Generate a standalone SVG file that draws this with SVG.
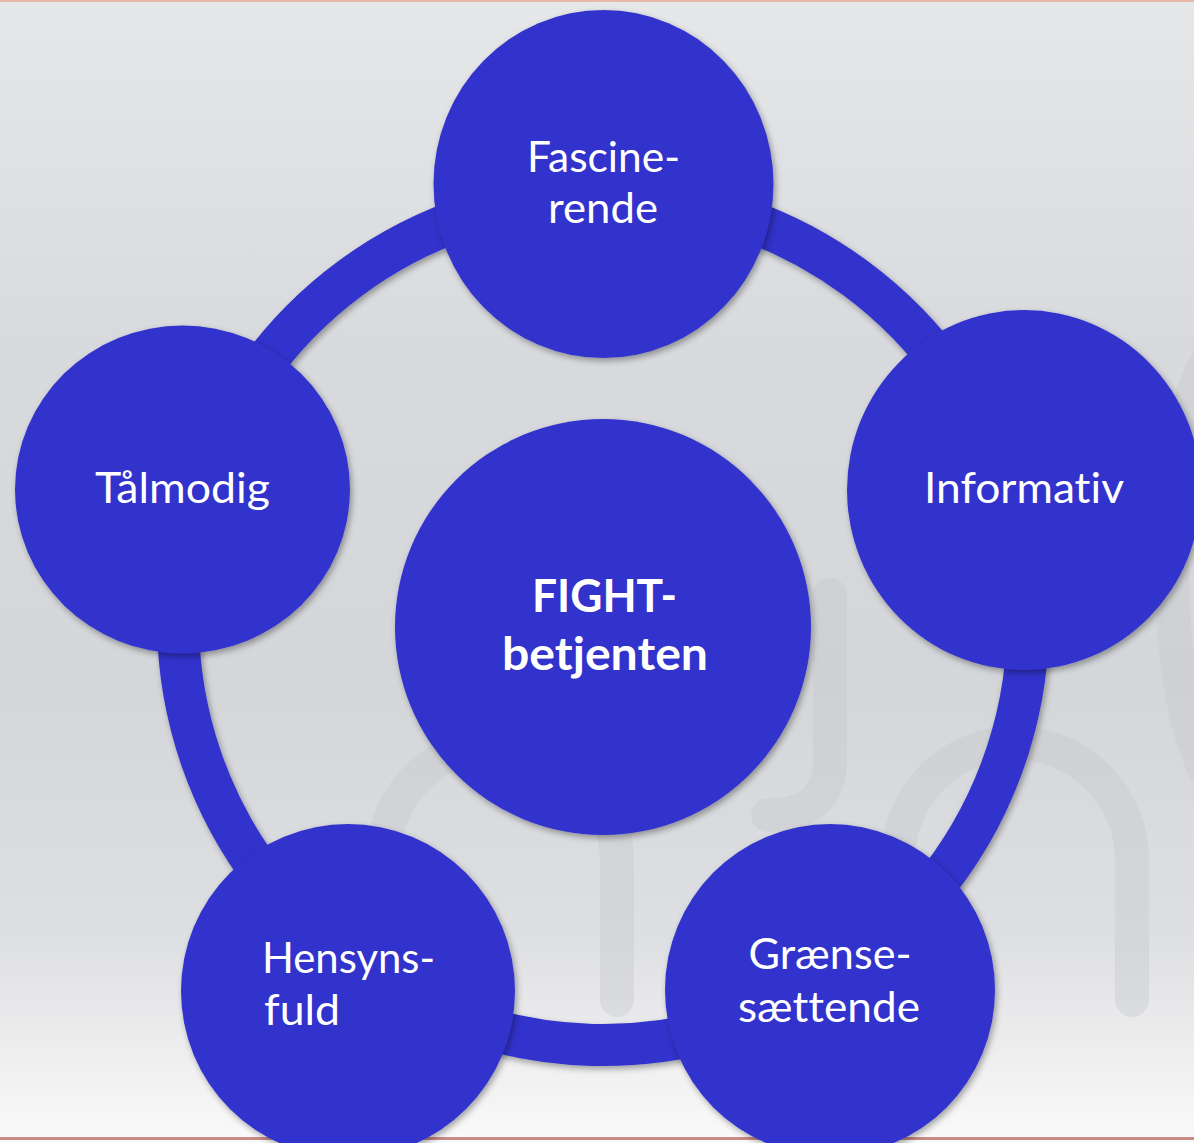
<svg xmlns="http://www.w3.org/2000/svg" width="1194" height="1143" viewBox="0 0 1194 1143">
  <defs>
    <linearGradient id="bg" x1="0" y1="0" x2="0" y2="1">
      <stop offset="0" stop-color="#e6e7e9"/>
      <stop offset="0.3" stop-color="#d9dadd"/>
      <stop offset="0.6" stop-color="#d5d6d9"/>
      <stop offset="0.82" stop-color="#dedfe2"/>
      <stop offset="0.92" stop-color="#eeeeef"/>
      <stop offset="1" stop-color="#fafafa"/>
    </linearGradient>
    <filter id="sh" x="-10%" y="-10%" width="125%" height="125%">
      <feDropShadow dx="2" dy="3" stdDeviation="3" flood-color="#000" flood-opacity="0.35"/>
    </filter>
  </defs>
  <style>
    .node { fill: #3333cc; filter: url(#sh); }
    .ring { fill: none; stroke: #3333cc; stroke-width: 42; }
    .wm { fill: none; stroke: #c6c7ca; stroke-width: 34; stroke-linecap: round; opacity: 0.4; }
    .lbl { fill: #ffffff; font-family: Lato, "Liberation Sans", sans-serif; font-size: 43px; font-variant-ligatures: none; font-feature-settings: "liga" 0, "clig" 0, "dlig" 0; }
    .mid { text-anchor: middle; }
    .bold { font-weight: bold; font-size: 46px; }
  </style>

  <rect x="0" y="0" width="1194" height="1143" fill="url(#bg)"/>
  <rect x="0" y="0" width="1194" height="2" fill="#e6b8a8"/>
  <rect x="0" y="1137" width="1194" height="3" fill="#c98a86"/>

  <g id="watermark">
    <path class="wm" d="M383 1005 V860 A117 117 0 0 1 617 860 V1000"/>
    <path class="wm" d="M898 1005 V860 A117 117 0 0 1 1132 860 V1000"/>
    <path class="wm" d="M830 595 V760 Q830 815 768 815"/>
    <path class="wm" d="M1205 365 Q1172 430 1172 560 Q1172 700 1205 770"/>
  </g>

  <g id="connectors" filter="url(#sh)">
    <path class="ring" d="M603 195 A425 425 0 0 1 1009 494"/>
    <path class="ring" d="M1009 494 A425 425 0 0 1 826 982"/>
    <path class="ring" d="M826 982 A425 425 0 0 1 362 970"/>
    <path class="ring" d="M362 970 A425 425 0 0 1 197 494"/>
    <path class="ring" d="M197 494 A425 425 0 0 1 603 195"/>
  </g>

  <g id="node-center">
    <circle class="node" cx="603" cy="627" r="208"/>
    <text class="lbl mid bold" x="604.5" y="612" textLength="145" lengthAdjust="spacingAndGlyphs">FIGHT-</text>
    <text class="lbl mid bold" x="605" y="670" textLength="206" lengthAdjust="spacingAndGlyphs">betjenten</text>
  </g>

  <g id="node-fascinerende">
    <ellipse class="node" cx="603.5" cy="184" rx="170" ry="174"/>
    <text class="lbl mid" x="603.5" y="172" textLength="153" lengthAdjust="spacingAndGlyphs">Fascine-</text>
    <text class="lbl mid" x="603" y="223" textLength="110" lengthAdjust="spacingAndGlyphs">rende</text>
  </g>

  <g id="node-informativ">
    <ellipse class="node" cx="1024" cy="490" rx="177" ry="180"/>
    <text class="lbl mid" x="1024" y="503" textLength="200" lengthAdjust="spacingAndGlyphs">Informativ</text>
  </g>

  <g id="node-graensesaettende">
    <ellipse class="node" cx="830" cy="990" rx="165" ry="166"/>
    <text class="lbl mid" x="830" y="969" textLength="163" lengthAdjust="spacingAndGlyphs">Grænse-</text>
    <text class="lbl mid" x="829" y="1022" textLength="182" lengthAdjust="spacingAndGlyphs">sættende</text>
  </g>

  <g id="node-hensynsfuld">
    <ellipse class="node" cx="348" cy="991" rx="167" ry="167"/>
    <text class="lbl" x="262" y="973" textLength="173" lengthAdjust="spacingAndGlyphs">Hensyns-</text>
    <text class="lbl" x="264" y="1025" textLength="76" lengthAdjust="spacingAndGlyphs">fuld</text>
  </g>

  <g id="node-taalmodig">
    <ellipse class="node" cx="182.5" cy="489.5" rx="167.5" ry="164"/>
    <text class="lbl mid" x="182.5" y="503" textLength="175" lengthAdjust="spacingAndGlyphs">Tålmodig</text>
  </g>
</svg>
